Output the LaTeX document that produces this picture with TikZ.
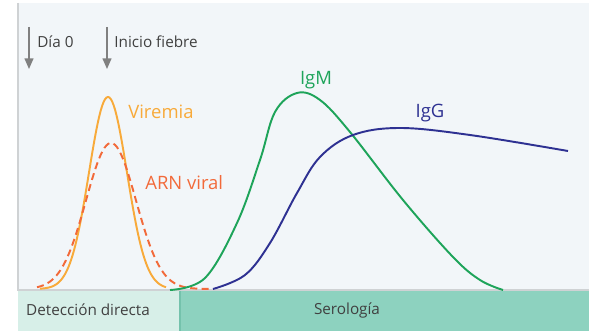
\documentclass[tikz,border=0pt]{standalone}
\usepackage{fontspec}
\setmainfont{Open Sans}
\usetikzlibrary{arrows.meta}
\definecolor{panel}{HTML}{F2F6F9}
\definecolor{framegray}{HTML}{CFD2D4}
\definecolor{markgray}{HTML}{808080}
\definecolor{txtgray}{HTML}{404040}
\definecolor{directa}{HTML}{D7EFE8}
\definecolor{serol}{HTML}{8DD2BF}
\definecolor{serolline}{HTML}{74C2AC}
\definecolor{viremia}{HTML}{F8AA3A}
\definecolor{arn}{HTML}{F26A3A}
\definecolor{igm}{HTML}{1EA45A}
\definecolor{igg}{HTML}{2E3192}
\tikzset{
  lbl/.style={font=\fontsize{8.7}{10}\selectfont, text=txtgray, inner sep=0pt},
  curvelbl/.style={font=\fontsize{10.5}{12}\selectfont, inner sep=0pt},
  marker/.style={draw=markgray, line width=0.85pt, -{Triangle[width=5pt,length=6pt]}},
  curve/.style={line width=1.1pt}
}

\begin{document}
\begin{tikzpicture}[x=0.02cm, y=-0.02cm]
\useasboundingbox (0,0) rectangle (589,331);
\fill[panel] (18,3) rectangle (589,290);
\draw[framegray, line width=1.2pt] (18,3) -- (18,290) -- (589,290);

\fill[directa] (18,291) rectangle (180,331);
\fill[serol] (180,291) rectangle (589,331);
\draw[serolline, line width=0.6pt] (180,291) -- (180,331);
\node[lbl] (directa) at (88,310) {Detección directa};
\node[lbl] (serologia) at (347,310) {Serología};

\coordinate (dia0top) at (29,27);
\coordinate (dia0tip) at (29,69);
\coordinate (fiebretop) at (107,27);
\coordinate (fiebretip) at (107,69);
\draw[marker] (dia0top) -- (dia0tip);
\draw[marker] (fiebretop) -- (fiebretip);
\node[lbl, anchor=west] (dia0) at (37,42) {Día 0};
\node[lbl, anchor=west] (fiebre) at (114,42) {Inicio fiebre};

\draw[curve, viremia] plot[domain=40:166, samples=90] (\x, {289-192*exp(-((\x-108)^2)/722)});
\draw[curve, arn, dash pattern=on 4pt off 2.5pt] plot[domain=37:213, samples=100] (\x, {289-146*exp(-((\x-111)^2)/1250)});

\draw[curve, igm] plot[smooth, tension=0.6] coordinates {(170,290) (205,278) (237,223) (260,160) (275,112) (297,93) (320,100) (350,132) (403,200) (453,257) (480,280) (503,290)};
\draw[curve, igg] plot[smooth, tension=0.6] coordinates {(213,289) (245,275) (270,243) (297,193) (320,157) (353,135) (400,128) (470,135) (568,151)};

\node[curvelbl, text=viremia, anchor=west] (lviremia) at (128,112) {Viremia};
\node[curvelbl, text=arn, anchor=west] (larn) at (145,183) {ARN viral};
\node[curvelbl, text=igm] (ligm) at (316,80) {IgM};
\node[curvelbl, text=igg] (ligg) at (430,113) {IgG};
\end{tikzpicture}
\end{document}
